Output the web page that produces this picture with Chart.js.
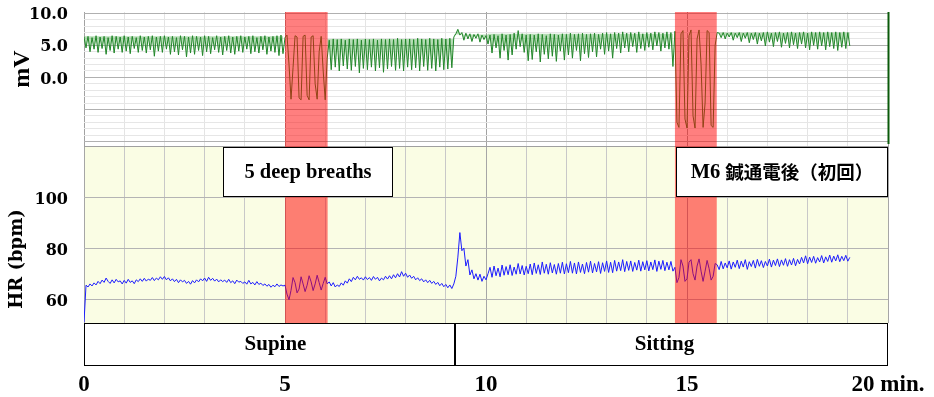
<!DOCTYPE html>
<html><head><meta charset="utf-8">
<script src="https://cdn.jsdelivr.net/npm/chart.js@4.4.1/dist/chart.umd.min.js"></script>
<style>
html,body{margin:0;padding:0;background:#fff;}
#wrap{position:relative;width:934px;height:397px;overflow:hidden;background:#fff;}
#topChart{position:absolute;left:0;top:0;}
#hrChart{position:absolute;left:0;top:146px;}
</style></head><body>
<div id="wrap">
<canvas id="topChart" width="934" height="146"></canvas>
<canvas id="hrChart" width="934" height="251"></canvas>
</div>
<script>
// ---- sampling (minutes between consecutive samples) ----
const sampleStepMin = 0.05;

// ---- upper trace (mV), consecutive samples ----
const mvSupineA = [ // 0.00 - 4.95
6.3,4.6,6.4,4.0,6.2,4.4,6.5,3.9,6.3,4.5,
6.4,3.6,6.2,4.2,6.5,3.8,6.4,4.4,6.3,3.9,
6.5,4.1,6.3,3.7,6.4,4.5,6.2,3.9,6.5,4.2,
6.3,3.8,6.4,4.3,6.5,3.3,6.3,4.1,6.4,3.9,
6.5,4.4,6.3,3.6,6.4,4.0,6.2,3.5,6.5,4.3,
6.4,3.2,6.3,3.8,6.5,3.6,6.4,4.2,6.3,3.4,
6.5,4.0,6.4,3.7,6.2,4.3,6.5,3.9,6.3,3.5,
6.4,4.2,6.5,3.8,6.3,3.6,6.4,4.1,6.5,3.9,
6.3,4.4,6.4,3.7,6.5,4.0,6.2,3.8,6.4,4.3,
6.5,3.6,6.3,4.1,6.4,3.9,6.5,3.4,6.6,3.7];
const mvBreath1 = [ // 5.00 - 6.05
6.2,6.6,2.0,-3.4,1.5,6.5,6.3,-3.2,-3.5,6.4,6.6,-2.8,-3.5,6.3,6.5,-1.0,-3.4,4.0,6.4,1.0,-3.5,3.0];
const mvSupineB = [ // 6.10 - 9.20
5.8,1.2,6.0,1.6,5.9,1.0,6.0,1.8,5.8,1.3,
6.0,1.1,5.9,1.7,6.0,0.7,5.8,1.4,6.0,1.2,
5.9,1.6,6.0,1.0,5.8,1.5,6.0,0.8,5.9,1.3,
6.0,1.7,5.9,1.1,6.1,1.4,5.9,1.0,6.0,1.6,
6.0,1.2,5.9,1.5,6.1,1.0,6.0,1.7,5.9,1.1,
6.1,1.4,6.0,1.0,5.9,1.6,6.1,1.2,6.0,1.3,
6.1,1.5,6.3];
const mvStandUp = [ // 9.25 - 10.05
6.8,7.5,6.6,7.0,5.8,6.9,6.0,6.8,5.6,6.7,6.1,6.8,5.5,6.6,5.9,6.5,5.2];
const mvSittingA = [ // 10.10 - 14.65
6.6,3.8,6.7,4.6,6.5,3.0,6.8,4.2,6.6,2.7,
6.7,3.5,6.9,4.4,7.3,4.8,6.8,3.9,6.6,2.6,
6.7,2.8,6.6,4.0,6.8,2.4,6.7,3.6,6.5,2.9,
6.8,3.3,6.7,2.5,6.6,4.1,6.8,2.7,6.7,3.5,
6.9,3.0,6.7,4.2,6.8,2.6,6.9,3.7,6.7,3.1,
6.8,4.0,6.9,3.2,6.7,4.4,6.9,3.6,7.0,4.1,
6.8,3.0,7.0,4.5,6.9,3.8,7.1,4.6,6.9,4.0,
7.0,4.8,6.9,3.9,7.1,4.5,6.8,4.2,7.0,4.7,
6.9,4.3,7.1,4.9,7.0,4.1,6.9,4.6,7.1,4.4,
7.0,1.7];
const mvBreath2 = [ // 14.70 - 15.75
7.2,-7.0,-7.8,6.8,7.3,-6.5,-7.9,6.5,7.4,-6.0,-7.9,6.0,7.4,2.0,-7.8,-4.0,7.3,7.0,-7.5,-7.8,5.0,7.0];
const mvSittingB = [ // 15.80 - 19.05
6.9,6.2,7.0,6.0,6.9,6.3,7.0,5.8,6.9,6.2,
7.0,5.6,6.9,6.1,7.0,5.4,6.9,5.9,7.0,5.2,
6.9,5.7,7.0,4.9,7.1,5.5,6.9,4.8,7.0,5.6,
7.1,4.7,6.9,5.3,7.0,4.6,7.1,5.1,6.9,4.5,
7.0,5.2,7.1,4.6,6.9,4.3,7.1,5.0,7.0,4.4,
7.1,4.9,7.0,4.3,7.1,4.8,7.0,4.5,7.1,4.2,
7.0,4.7,7.1,4.5,7.0,4.9];

// ---- heart rate (bpm), same sampling ----
const hrSupineA = [ // 0.00 - 4.95
51,65.5,64.8,66.0,65.2,66.4,65.6,67.0,66.1,67.5,
66.6,68.3,67.0,66.2,67.6,66.4,67.8,66.8,67.2,66.0,
67.4,66.3,67.8,66.6,67.2,66.1,67.6,66.9,68.0,67.0,
68.2,67.1,67.9,67.4,68.5,67.3,68.3,67.6,68.8,67.8,
68.9,67.6,68.4,67.2,68.0,66.9,67.8,66.5,67.6,66.8,
67.4,66.2,67.0,65.9,67.3,66.4,67.6,66.8,68.0,67.2,
68.3,67.0,68.6,67.4,68.2,67.1,67.9,66.8,67.6,66.9,
67.5,66.6,67.8,66.5,67.2,66.1,67.5,66.7,67.0,66.2,
66.8,65.9,67.4,66.0,66.6,65.6,66.9,65.8,66.3,65.4,
66.0,65.1,65.8,64.7,65.5,64.9,66.0,65.0,65.6,65.2];
const hrBreath1 = [ // 5.00 - 6.05
65.5,62.0,59.8,63.5,68.5,66.5,62.5,64.0,68.8,66.0,63.0,65.5,69.2,66.8,63.4,66.0,69.4,66.5,63.6,66.2,68.6,66.0];
const hrSupineB = [ // 6.10 - 9.20
66.8,65.2,66.5,64.8,65.6,65.0,66.4,65.5,67.2,66.3,
68.0,66.9,68.6,67.6,69.0,67.8,68.4,67.5,68.8,67.7,
68.5,67.4,68.9,67.8,68.6,67.2,68.3,67.6,69.0,67.9,
69.2,68.0,69.6,68.4,70.0,68.7,70.8,69.0,70.2,68.6,
69.5,68.2,69.0,67.6,68.4,67.3,68.0,66.8,67.6,66.5,
67.4,66.2,67.0,65.8,66.6,65.3,66.2,64.9,65.8,64.5,
65.6,64.2,66.0];
const hrStandUp = [ // 9.25 - 10.05
69.0,76.5,86.1,79.0,80.0,73.0,75.5,69.5,71.5,68.0,70.0,67.5,69.8,67.0,69.0,67.6,70.0];
const hrSittingA = [ // 10.10 - 14.65
72.5,68.6,73.0,69.2,72.2,68.8,73.4,69.4,72.8,69.6,
73.5,69.3,72.6,69.8,74.0,69.9,73.2,69.5,72.9,70.0,
73.8,69.6,74.2,70.1,73.5,69.7,74.6,70.2,73.7,69.8,
74.3,70.3,73.6,69.8,74.0,70.2,74.5,69.9,73.9,70.4,
74.8,70.2,74.2,69.9,74.6,70.5,73.8,70.0,74.4,70.6,
74.9,70.3,74.0,70.7,74.7,70.1,74.3,70.9,75.0,70.5,
74.5,70.4,75.2,71.0,74.6,71.2,75.5,70.8,74.8,71.3,
75.0,70.9,74.4,71.4,75.3,71.0,74.7,71.5,75.1,71.1,
74.6,71.6,75.4,70.9,74.9,71.7,75.2,71.2,74.5,71.5,
74.8,71.0];
const hrBreath2 = [ // 14.70 - 15.75
72.5,66.5,68.5,75.5,73.0,67.0,68.0,74.5,75.5,70.0,67.5,73.0,75.8,71.0,67.0,71.0,75.2,72.0,67.5,69.0,74.0,73.5];
const hrSittingB = [ // 15.80 - 19.05
71.6,74.8,71.9,74.2,72.3,75.0,71.8,74.6,72.5,75.3,
72.0,74.9,72.6,75.5,71.7,74.7,72.8,75.2,72.2,75.6,
72.9,75.1,72.4,74.8,73.0,75.7,72.6,75.3,73.2,75.8,
72.8,75.4,73.3,75.9,72.9,75.5,73.4,76.0,73.1,75.6,
73.8,76.4,74.2,77.0,73.9,76.5,74.4,76.8,74.1,76.3,
74.6,77.1,74.2,76.6,74.8,77.3,74.5,76.9,75.0,77.4,
74.7,76.8,75.1,77.2,74.9,76.4];

// ---- axes / labels ----
const xTickValues = [0,1,2,3,4,5,6,7,8,9,10,11,12,13,14,15,16,17,18,19,20];
const xTickLabels = {0:'0',5:'5',10:'10',15:'15',20:'20 min.'};
const mvGridValues = [-10,-9,-8,-7,-6,-5,-4,-3,-2,-1,0,1,2,3,4,5,6,7,8,9,10];
const mvTickLabels = {10:'10.0',5:'5.0',0:'0.0'};
const hrGridValues = [60,80,100,120];
const hrTickLabels = {60:'60',80:'80',100:'100'};
const breathWindows = [[5.0,6.06],[14.7,15.74]];
const stages = [{label:'Supine',from:0,to:9.23},{label:'Sitting',from:9.23,to:20}];
const notes = [{text:'5 deep breaths',from:3.47,to:7.69},{text:'M6 ',cjk:'鍼通電後（初回）',from:14.73,to:20}];

// ---- build point lists ----
function toPoints(segments){
  const vals = [].concat(...segments);
  return vals.map((v,i)=>({x:+(i*sampleStepMin).toFixed(2), y:v}));
}
const mvSegmentList = [mvSupineA,mvBreath1,mvSupineB,mvStandUp,mvSittingA,mvBreath2,mvSittingB];
const mvPoints = toPoints(mvSegmentList);
const hrPoints = toPoints([hrSupineA,hrBreath1,hrSupineB,hrStandUp,hrSittingA,hrBreath2,hrSittingB]);

// light band shading of the dense trace (style): level of the band's upper edge per segment, null = no shading
const mvBandStyle = [6.4, null, 6.0, 6.7, 6.8, null, 7.0];
const mvDatasets = [];
{
  let start = 0;
  mvSegmentList.forEach((seg, k) => {
    const from = Math.max(0, start-1), to = start + seg.length;
    const lvl = mvBandStyle[k];
    mvDatasets.push({
      data: mvPoints.slice(from, to),
      borderColor:'#22872a', borderWidth:1, pointRadius:0, tension:0,
      backgroundColor:'rgba(80,175,80,0.42)',
      fill: lvl === null ? false : {target:{value:lvl}}
    });
    start = to;
  });
}

const TICK_FONT = {family:'"DejaVu Serif", serif', weight:'bold', size:16};

function fixSize(prop, size){
  return s => { s[prop] = size; s.paddingTop = 0; s.paddingBottom = 0; s.paddingLeft = 0; s.paddingRight = 0; };
}

const breathOverlay = {
  id:'breathOverlay',
  afterDatasetsDraw(chart){
    const {ctx, chartArea:a, scales:{x}} = chart;
    ctx.save();
    ctx.fillStyle = 'rgba(255,0,0,0.5)';
    for (const [s,e] of breathWindows){
      const x0 = x.getPixelForValue(s), x1 = x.getPixelForValue(e);
      ctx.fillRect(x0, a.top, x1-x0, a.bottom-a.top);
    }
    ctx.restore();
  }
};

const topDecor = {
  id:'topDecor',
  beforeDraw(chart){
    const {ctx, chartArea:a} = chart;
    ctx.save(); ctx.fillStyle='#ffffff'; ctx.fillRect(a.left,a.top,a.right-a.left,a.bottom-a.top); ctx.restore();
  },
  afterDraw(chart){
    const {ctx, chartArea:a} = chart;
    ctx.save();
    ctx.strokeStyle = '#0b5a0b'; ctx.lineWidth = 2;
    ctx.beginPath(); ctx.moveTo(a.right+0.5, a.top); ctx.lineTo(a.right+0.5, a.bottom-2); ctx.stroke();
    // axis title
    ctx.translate(23, 69); ctx.rotate(-Math.PI/2);
    ctx.fillStyle='#000'; ctx.font='bold 24px "Liberation Serif", serif';
    ctx.textAlign='center'; ctx.textBaseline='middle';
    ctx.fillText('mV', 0, 0);
    ctx.restore();
  }
};

const stageLabelShift = {Supine: 6, Sitting: -7};

const hrDecor = {
  id:'hrDecor',
  beforeDraw(chart){
    const {ctx, chartArea:a} = chart;
    ctx.save(); ctx.fillStyle='#fafde4'; ctx.fillRect(a.left,a.top,a.right-a.left,a.bottom-a.top); ctx.restore();
  },
  afterDraw(chart){
    const {ctx, chartArea:a, scales:{x}} = chart;
    ctx.save();
    ctx.strokeStyle='#000'; ctx.lineWidth=1; ctx.fillStyle='#000';
    // stage band
    const bandTop = a.bottom, bandH = 43;
    for (const st of stages){
      const x0 = Math.round(x.getPixelForValue(st.from))+0.5, x1 = Math.round(x.getPixelForValue(st.to))-0.5;
      ctx.fillStyle='#fff'; ctx.fillRect(x0, bandTop, x1-x0, bandH);
      ctx.strokeRect(x0, bandTop+0.5, x1-x0, bandH-1);
      ctx.fillStyle='#000';
      ctx.font='bold 21px "Liberation Serif", serif'; ctx.textAlign='center'; ctx.textBaseline='middle';
      ctx.fillText(st.label, (x0+x1)/2+(stageLabelShift[st.label]||0), bandTop+bandH/2);
    }
    // note boxes
    for (const n of notes){
      const x0 = Math.round(x.getPixelForValue(n.from))+0.5, x1 = Math.round(x.getPixelForValue(n.to))-0.5;
      const y0 = a.top+1.5, h = 49;
      ctx.fillStyle='#fff'; ctx.fillRect(x0,y0,x1-x0,h);
      ctx.strokeRect(x0,y0,x1-x0,h);
      ctx.fillStyle='#000'; ctx.textBaseline='middle'; ctx.textAlign='left';
      const f1='bold 20.5px "Liberation Serif", serif', f2='bold 18.5px "Noto Sans CJK JP", sans-serif';
      ctx.font=f1; const w1=ctx.measureText(n.text).width;
      let w2=0; if(n.cjk){ctx.font=f2; w2=ctx.measureText(n.cjk).width;}
      let tx=(x0+x1)/2-(w1+w2)/2; const ty=y0+h/2;
      ctx.font=f1; ctx.fillText(n.text,tx,ty+1);
      if(n.cjk){ctx.font=f2; ctx.fillText(n.cjk,tx+w1,ty);}
    }
    // axis title
    ctx.translate(17, 259-146); ctx.rotate(-Math.PI/2);
    ctx.font='bold 18px "DejaVu Serif", serif'; ctx.textAlign='center'; ctx.textBaseline='middle';
    ctx.fillText('HR (bpm)', 0, 0);
    ctx.restore();
  }
};

const xGridColor = (light, dark) => c => (c.tick && c.tick.value % 5 === 0) ? dark : light;

new Chart(document.getElementById('topChart'), {
  type:'line',
  data:{datasets:mvDatasets},
  options:{
    responsive:false, animation:false, devicePixelRatio:1, parsing:false,
    layout:{autoPadding:false, padding:{top:12,right:46,left:0,bottom:0}},
    plugins:{legend:{display:false}, tooltip:{enabled:false}, filler:{propagate:false}},
    scales:{
      x:{type:'linear', min:0, max:20,
        afterBuildTicks:s=>{s.ticks=xTickValues.map(v=>({value:v}));},
        afterFit:fixSize('height',0),
        ticks:{display:false}, border:{display:false},
        grid:{drawTicks:false, color:xGridColor('#e4e4e4','#a2a2a2')}},
      y:{type:'linear', min:-10.7, max:10.2,
        afterBuildTicks:s=>{s.ticks=mvGridValues.map(v=>({value:v}));},
        afterFit:fixSize('width',84),
        border:{display:false},
        grid:{drawTicks:false, color:c=>(c.tick && c.tick.value%5===0)?'#b0b0b0':'#e6e6e6'},
        ticks:{padding:16, labelOffset:2, color:'#000', font:TICK_FONT, autoSkip:false,
          callback:v=>mvTickLabels[v] ?? ''}}
    }
  },
  plugins:[topDecor, breathOverlay]
});

new Chart(document.getElementById('hrChart'), {
  type:'line',
  data:{datasets:[{data:hrPoints, borderColor:'#1c1cff', borderWidth:1, pointRadius:0, tension:0}]},
  options:{
    responsive:false, animation:false, devicePixelRatio:1, parsing:false,
    layout:{autoPadding:false, padding:{top:0,right:46,left:0,bottom:0}},
    plugins:{legend:{display:false}, tooltip:{enabled:false}},
    scales:{
      x:{type:'linear', min:0, max:20,
        afterBuildTicks:s=>{s.ticks=xTickValues.map(v=>({value:v}));},
        afterFit:fixSize('height',74),
        border:{display:false},
        grid:{drawTicks:false, color:xGridColor('#c8c8c8','#a6a6a6')},
        ticks:{padding:48, color:'#000', maxRotation:0, autoSkip:false,
          font:{family:'"Liberation Serif", serif', weight:'bold', size:23},
          callback:v=>xTickLabels[v] ?? ''}},
      y:{type:'linear', min:50.7, max:120,
        afterBuildTicks:s=>{s.ticks=hrGridValues.map(v=>({value:v}));},
        afterFit:fixSize('width',84),
        border:{display:false},
        grid:{drawTicks:false, color:c=>(c.tick && c.tick.value===120)?'#a0a0a0':'#b4b4b4'},
        ticks:{padding:16, labelOffset:3, color:'#000', font:TICK_FONT, autoSkip:false,
          callback:v=>hrTickLabels[v] ?? ''}}
    }
  },
  plugins:[hrDecor, breathOverlay]
});
</script>
</body></html>
